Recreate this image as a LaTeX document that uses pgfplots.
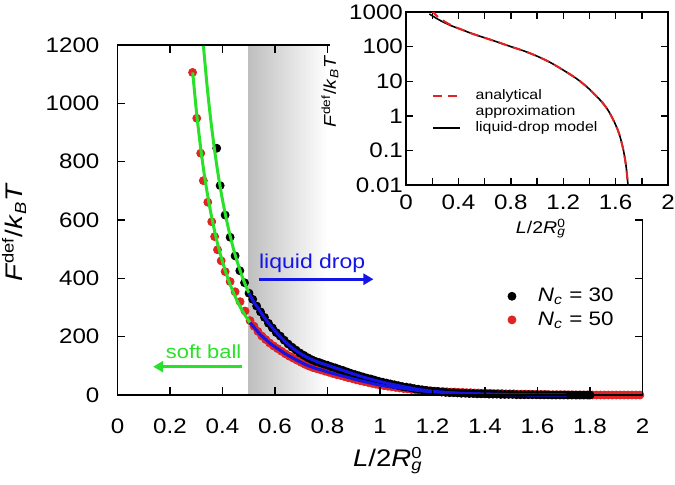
\documentclass[border=0pt]{standalone}
\usepackage{fontspec}
\setmainfont{Liberation Sans}[FakeStretch=1.15]
\usepackage{pgfplots}
\pgfplotsset{compat=1.18}
\usetikzlibrary{arrows.meta}
\definecolor{mygreen}{RGB}{40,225,40}
\definecolor{myblue}{RGB}{20,20,230}
\definecolor{myred}{RGB}{225,35,35}
\begin{document}
\begin{tikzpicture}
\begin{axis}[
  at={(0pt,0pt)}, anchor=south west, scale only axis,
  width=262.5pt, height=175pt,
  xmin=0, xmax=2, ymin=0, ymax=1200,
  clip=false, clip mode=individual, axis on top,
  xtick={0,0.2,0.4,0.6,0.8,1,1.2,1.4,1.6,1.8,2},
  ytick={0,200,400,600,800,1000,1200},
  tick align=inside, major tick length=4pt,
  axis line style={line width=0.75pt},
  every tick/.style={black, line width=0.75pt},
  tick label style={font=\fontsize{10.5}{12}\selectfont},
  /pgf/number format/assume math mode=true,
  /pgf/number format/1000 sep={},
  xticklabel style={anchor=base, yshift=-19pt},
  yticklabel style={xshift=-5.5pt},
  label style={font=\fontsize{12}{14}\selectfont},
  xlabel={\textit{L}/2\textit{R}\rlap{\textsuperscript{0}}\textsubscript{\textit{g}}},
  ylabel={\textit{F}\textsuperscript{def}/\textit{k}\textsubscript{\textit{B}}\textit{T}},
  xlabel style={at={(axis description cs:0.515,-0.205)}, anchor=base},
  ylabel style={at={(axis description cs:-0.197,0.465)}, anchor=center},
  legend style={at={(axis description cs:0.743,0.317)}, anchor=north west, draw=none, fill=none,
    inner sep=0pt, font=\fontsize{9.75}{11}\selectfont, nodes={inner ysep=1.75pt}},
  legend cell align=left,
]
\fill[left color=black!25, right color=white] (axis cs:0.5,0) rectangle (axis cs:0.8,1200);
\addlegendimage{legend image code/.code={\draw[black, only marks, mark=*, mark size=2pt] plot coordinates {(0pt,0pt)};}}
\addlegendentry{\hspace*{9pt}\textit{N}\textsubscript{\textit{c}} = 30}
\addlegendimage{legend image code/.code={\draw[myred, only marks, mark=*, mark size=2pt] plot coordinates {(0pt,0pt)};}}
\addlegendentry{\hspace*{9pt}\textit{N}\textsubscript{\textit{c}} = 50}
% N_c = 50
\addplot[only marks, mark=*, mark size=2pt, myred, forget plot] coordinates {
(0.286,1106) (0.302,949) (0.317,829) (0.327,735) (0.344,661) (0.359,594) (0.370,543) (0.381,498)
(0.395,460) (0.410,423) (0.429,389) (0.448,354) (0.467,320) (0.486,288) (0.505,255)
(0.52,236) (0.535,218) (0.55,202) (0.565,190) (0.58,178) (0.595,168) (0.61,159) (0.625,150)
(0.64,141) (0.655,133) (0.67,126) (0.685,119) (0.70,112) (0.715,105) (0.73,99) (0.745,94)
(0.76,90) (0.775,86) (0.79,82) (0.805,78) (0.82,74) (0.835,70) (0.85,67) (0.865,63) (0.88,59)
(0.895,56) (0.91,52) (0.925,49) (0.94,46) (0.955,43) (0.97,40) (0.985,37) (1.00,34) (1.015,32)
(1.03,30) (1.045,28) (1.06,26) (1.075,24) (1.09,22) (1.105,21) (1.12,19) (1.135,18) (1.15,17)
(1.165,16) (1.18,15) (1.195,14) (1.21,13) (1.225,12) (1.24,12) (1.255,11) (1.27,10) (1.285,10)
(1.30,9) (1.315,9) (1.33,8) (1.345,8) (1.36,7) (1.375,7) (1.39,6) (1.405,6) (1.42,6) (1.435,5)
(1.45,5) (1.465,5) (1.48,4) (1.495,4) (1.51,4) (1.525,3) (1.54,3) (1.555,3) (1.57,3) (1.585,2)
(1.60,2) (1.615,2) (1.63,2) (1.645,1) (1.66,1) (1.675,1) (1.69,1) (1.705,1) (1.72,0.5) (1.735,0.5)
(1.75,0) (1.765,0) (1.78,0) (1.795,0) (1.81,0) (1.825,0) (1.84,0) (1.855,0) (1.87,0) (1.885,0)
(1.90,0) (1.915,0) (1.93,0) (1.945,0) (1.96,0) (1.975,0) (1.99,0)
};
% N_c = 30
\addplot[only marks, mark=*, mark size=2pt, black, forget plot] coordinates {
(0.378,846) (0.391,718) (0.410,617) (0.429,541) (0.448,477) (0.466,426) (0.484,385) (0.501,349)
(0.515,328) (0.53,305) (0.545,285) (0.56,266) (0.575,246) (0.59,230) (0.605,214) (0.62,202)
(0.635,188) (0.65,175) (0.665,164) (0.68,154) (0.695,144) (0.71,136) (0.725,128) (0.74,121)
(0.755,115) (0.77,111) (0.785,106) (0.80,102) (0.815,97) (0.83,93) (0.845,88) (0.86,84) (0.875,79)
(0.89,74) (0.905,70) (0.92,66) (0.935,62) (0.95,58) (0.965,55) (0.98,51) (0.995,47) (1.01,44)
(1.025,41) (1.04,38) (1.055,35) (1.07,32) (1.085,29) (1.10,27) (1.115,25) (1.13,22) (1.145,20)
(1.16,18) (1.175,16) (1.19,14) (1.205,13) (1.22,12) (1.235,10) (1.25,9) (1.265,8) (1.28,8)
(1.295,7) (1.31,6) (1.325,6) (1.34,5) (1.355,5) (1.37,4) (1.385,4) (1.40,4) (1.415,3) (1.43,3)
(1.445,3) (1.46,2) (1.475,2) (1.49,2) (1.505,2) (1.52,1) (1.535,1) (1.55,1) (1.565,1) (1.58,1)
(1.595,1) (1.61,0.5) (1.625,0.5) (1.64,0.5) (1.655,0) (1.67,0) (1.685,0) (1.70,0) (1.715,0)
(1.73,0) (1.745,0) (1.76,0) (1.775,0) (1.79,0) (1.80,0)
};
% soft-ball fits
\addplot[mygreen, line width=1.5pt, smooth, forget plot] coordinates {
(0.327,1200) (0.34,1072) (0.35,985) (0.36,908) (0.37,839) (0.38,776) (0.39,720) (0.40,669)
(0.42,581) (0.44,507) (0.46,446) (0.48,394) (0.50,350)
};
\addplot[mygreen, line width=1.5pt, smooth, forget plot] coordinates {
(0.2865,1106) (0.30,979) (0.31,898) (0.32,825) (0.33,760) (0.34,703) (0.35,651) (0.36,604)
(0.37,562) (0.38,523) (0.40,457) (0.42,401) (0.44,355) (0.46,315) (0.48,282) (0.505,248)
};
% liquid-drop fits
\addplot[myblue, line width=1.5pt, smooth, forget plot] coordinates {
(0.50,350) (0.52,318) (0.54,292) (0.56,265) (0.58,241) (0.60,220) (0.62,200) (0.64,182)
(0.66,166) (0.68,152) (0.70,140) (0.72,130) (0.76,114) (0.80,102) (0.85,87) (0.90,72)
(0.95,58) (1.0,46) (1.05,36) (1.1,27) (1.15,19) (1.2,13) (1.3,6) (1.4,3) (1.5,1.5) (1.6,0.5) (1.71,0)
};
\addplot[myblue, line width=1.5pt, smooth, forget plot] coordinates {
(0.505,248) (0.52,232) (0.54,211) (0.56,194) (0.58,178) (0.60,165) (0.62,153) (0.64,141)
(0.66,131) (0.68,121) (0.70,112) (0.72,103) (0.74,96) (0.76,90) (0.78,85) (0.80,79) (0.85,67)
(0.90,55) (0.95,44) (1.0,34) (1.05,27) (1.1,21) (1.15,15) (1.2,11) (1.3,6) (1.4,3) (1.5,1.5)
(1.6,0.5) (1.71,0)
};
\node[anchor=east, inner sep=0pt, text=mygreen, font=\fontsize{9.5}{11}\selectfont] at (axis cs:0.473,148) {soft ball};
\draw[mygreen, line width=1.6pt, -{Triangle[length=5pt,width=5.5pt]}] (axis cs:0.473,97) -- (axis cs:0.136,97);
\node[anchor=west, inner sep=0pt, text=myblue, font=\fontsize{10}{12}\selectfont] at (axis cs:0.538,451) {liquid drop};
\draw[myblue, line width=1.6pt, -{Triangle[length=5pt,width=5.5pt]}] (axis cs:0.54,397) -- (axis cs:0.975,397);
\end{axis}
\fill[white] (106.25pt,88pt) rectangle (280pt,200pt);
\begin{semilogyaxis}[
  at={(144.25pt,105pt)}, anchor=south west, scale only axis,
  width=131pt, height=86.5pt,
  xmin=0, xmax=2, ymin=0.01, ymax=1000,
  xtick={0,0.4,0.8,1.2,1.6,2}, minor xtick={0.2,0.6,1,1.4,1.8},
  ytick={0.01,0.1,1,10,100,1000}, yticklabels={0.01,0.1,1,10,100,1000},
  yminorticks=false,
  tick align=inside, major tick length=3.5pt, minor tick length=3.5pt,
  axis line style={line width=0.75pt},
  every tick/.style={black, line width=0.7pt},
  tick label style={font=\fontsize{10.5}{12}\selectfont},
  /pgf/number format/assume math mode=true,
  xticklabel style={anchor=base, yshift=-12.2pt},
  yticklabel style={inner xsep=0pt, xshift=-1.35pt},
  label style={font=\fontsize{8.5}{10}\selectfont},
  xlabel={\textit{L}/2\textit{R}\rlap{\textsuperscript{0}}\textsubscript{\textit{g}}},
  ylabel={\textit{F}\textsuperscript{def}/\textit{k}\textsubscript{\textit{B}}\textit{T}},
  xlabel style={at={(axis description cs:0.515,-0.28)}, anchor=base},
  ylabel style={at={(axis description cs:-0.29,0.54)}, anchor=center},
  legend style={at={(axis description cs:0.098,0.566)}, anchor=north west, draw=none, fill=none,
    inner sep=0pt, font=\fontsize{6.9}{8}\selectfont, nodes={inner ysep=0.8pt}},
  legend cell align=left,
]
\addlegendimage{legend image code/.code={\draw[myred, dash pattern=on 4.5pt off 3pt, line width=1pt] (0pt,0pt) -- (13.3pt,0pt);}}
\addlegendentry{\hspace*{5.5pt}analytical}
\addlegendimage{empty legend}
\addlegendentry{\hspace*{5.5pt}approximation}
\addlegendimage{legend image code/.code={\draw[black, line width=0.8pt] (0pt,0pt) -- (13.3pt,0pt);}}
\addlegendentry{\hspace*{5.5pt}liquid-drop model}
\addplot[black, line width=0.8pt, smooth, forget plot] coordinates {
(0.178,880) (0.2,780) (0.25,600) (0.3,480) (0.35,395) (0.4,335) (0.45,285) (0.5,240) (0.6,180)
(0.7,135) (0.8,100) (0.9,75) (1.0,53) (1.1,35) (1.2,21) (1.3,12) (1.38,6.9) (1.45,3.8) (1.5,2.4)
(1.55,1.3) (1.6,0.55) (1.63,0.28) (1.66,0.1) (1.68,0.035) (1.69,0.015) (1.695,0.01) (1.698,0.004)
};
\addplot[myred, line width=1pt, dash pattern=on 4.5pt off 3pt, smooth, forget plot] coordinates {
(0.196,1100) (0.22,880) (0.25,690) (0.3,515) (0.35,405) (0.4,338) (0.45,285) (0.5,240) (0.6,180)
(0.7,135) (0.8,100) (0.9,75) (1.0,53) (1.1,35) (1.2,21) (1.3,12) (1.38,6.9) (1.45,3.8) (1.5,2.4)
(1.55,1.3) (1.6,0.55) (1.63,0.28) (1.66,0.1) (1.68,0.035) (1.69,0.015) (1.695,0.01) (1.698,0.004)
};
\end{semilogyaxis}
\pgfresetboundingbox
\path (-58.75pt,-44.5pt) rectangle (278.75pt,197.5pt);
\end{tikzpicture}
\end{document}
